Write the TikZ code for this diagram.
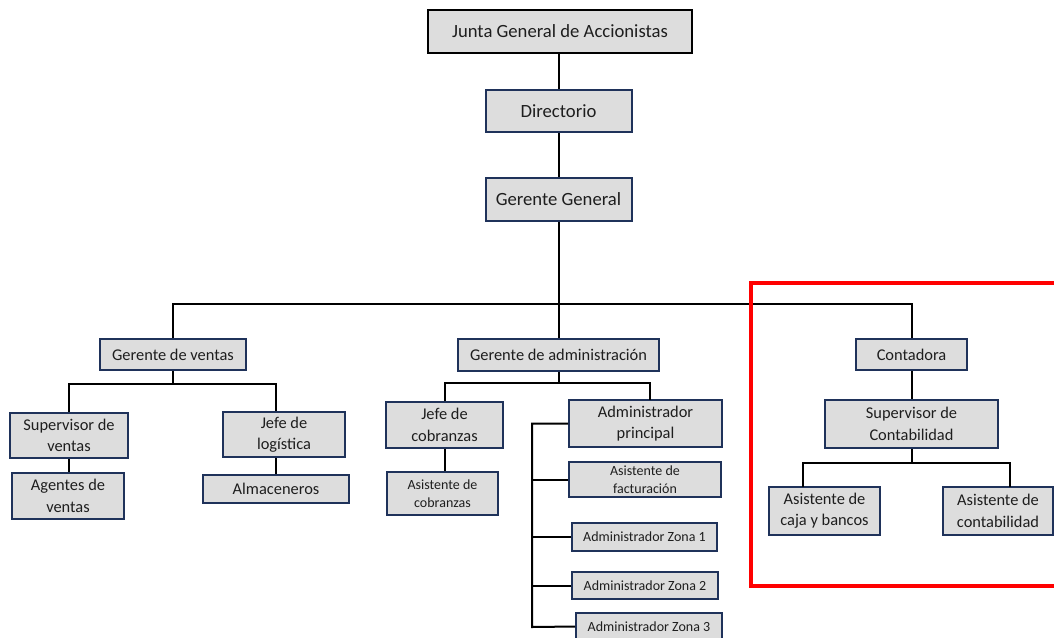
\documentclass[tikz,border=0pt]{standalone}
\usepackage{fontspec}
\setmainfont{Carlito}
\definecolor{navy}{RGB}{31,50,90}
\definecolor{boxgray}{RGB}{221,221,221}
\definecolor{txt}{RGB}{30,30,30}
\newcommand\FBig{\fontsize{14}{16.5}\selectfont}
\newcommand\FNorm{\fontsize{12.3}{16}\selectfont}
\newcommand\FSmall{\fontsize{10.5}{13.5}\selectfont}
\begin{document}
\begin{tikzpicture}[x=0.75pt,y=-0.75pt,
  box/.style={draw=navy, fill=boxgray, line width=1.5pt, inner sep=0pt, align=center, font=\FNorm, text=txt},
  wh/.style 2 args={minimum width=#1*0.75pt, minimum height=#2*0.75pt},
  conn/.style={draw=black, line width=1.5pt},
  redframe/.style={draw=red, line width=2.3pt}]
\useasboundingbox (0,0) rectangle (1054,637);
\clip (0,0) rectangle (1054,637);
% top levels
\node[box, wh={264}{43}, draw=black, line width=2.2pt, font=\FBig] (junta) at (560,31.5) {Junta General de Accionistas};
\node[box, wh={146}{42}, font=\FBig] (dir) at (558.5,111) {Directorio};
\node[box, wh={146}{43}, font=\FBig] (gg) at (558.5,199.5) {Gerente General};
% second level
\node[box, wh={146}{31}] (gv) at (173,354.5) {Gerente de ventas};
\node[box, wh={201}{32}] (ga) at (558.5,355) {Gerente de administración};
\node[box, wh={111}{31}] (cont) at (911.5,354.5) {Contadora};
% ventas
\node[box, wh={118}{45}] (sv) at (69,435.5) {Supervisor de\\ventas};
\node[box, wh={112}{46}] (av) at (68,496) {Agentes de\\ventas};
\node[box, wh={122}{45}] (jl) at (284,434.5) {Jefe de\\logística};
\node[box, wh={146}{28}] (alm) at (276,489) {Almaceneros};
% administracion
\node[box, wh={117}{46}] (jc) at (444.5,425) {Jefe de\\cobranzas};
\node[box, wh={111}{43}, font=\FSmall] (ac) at (442.5,493.5) {Asistente de\\cobranzas};
\node[box, wh={153}{47}] (ap) at (645.5,423.5) {Administrador\\principal};
\node[box, wh={152}{35}, font=\FSmall] (af) at (645,479.5) {Asistente de\\facturación};
\node[box, wh={145}{28}, font=\FSmall] (z1) at (644.5,537) {Administrador Zona 1};
\node[box, wh={146}{27}, font=\FSmall] (z2) at (645,585.5) {Administrador Zona 2};
\node[box, wh={146}{27}, font=\FSmall] (z3) at (649,626.5) {Administrador Zona 3};
% contabilidad
\node[box, wh={173}{48}] (sc) at (911.5,424) {Supervisor de\\Contabilidad};
\node[box, wh={111}{48}] (acb) at (824.5,511) {Asistente de\\caja y bancos};
\node[box, wh={110}{48}] (acont) at (998,511) {Asistente de\\contabilidad};
% connectors
\draw[conn] (dir.north |- junta.south) -- (dir.north);
\draw[conn] (dir.south) -- (gg.north);
\coordinate (bus) at (558.5,304);
\draw[conn] (gg.south) -- (ga.north);
\draw[conn] (gv.north) |- (bus) -| (cont.north);
% ventas
\coordinate (bv) at (173,384);
\draw[conn] (gv.south) -- (bv);
\draw[conn] (sv.north) |- (bv) -| (alm.north |- jl.north);
\draw[conn] (sv.south) -- (sv.south |- av.north);
\draw[conn] (alm.north |- jl.south) -- (alm.north);
% administracion
\coordinate (ba) at (558.5,383);
\coordinate (apc) at (650,400);
\draw[conn] (ga.south) -- (ba);
\draw[conn] (jc.north) |- (ba) -| (apc);
\draw[conn] (jc.south) -- (jc.south |- ac.north);
\coordinate (spine) at (532,627);
\draw[conn] (ap.west) -| (spine) -- (z3.west);
\draw[conn] (af.west) -- (af.west -| spine);
\draw[conn] (z1.west) -- (z1.west -| spine);
\draw[conn] (z2.west) -- (z2.west -| spine);
% contabilidad
\draw[conn] (cont.south) -- (sc.north);
\coordinate (bc) at (911.5,463);
\coordinate (lc) at (803,487);
\coordinate (rc) at (1010,487);
\draw[conn] (sc.south) -- (bc);
\draw[conn] (lc) |- (bc) -| (rc);
% highlight frame
\draw[redframe] (751,283) rectangle (1062,586);
\end{tikzpicture}
\end{document}
